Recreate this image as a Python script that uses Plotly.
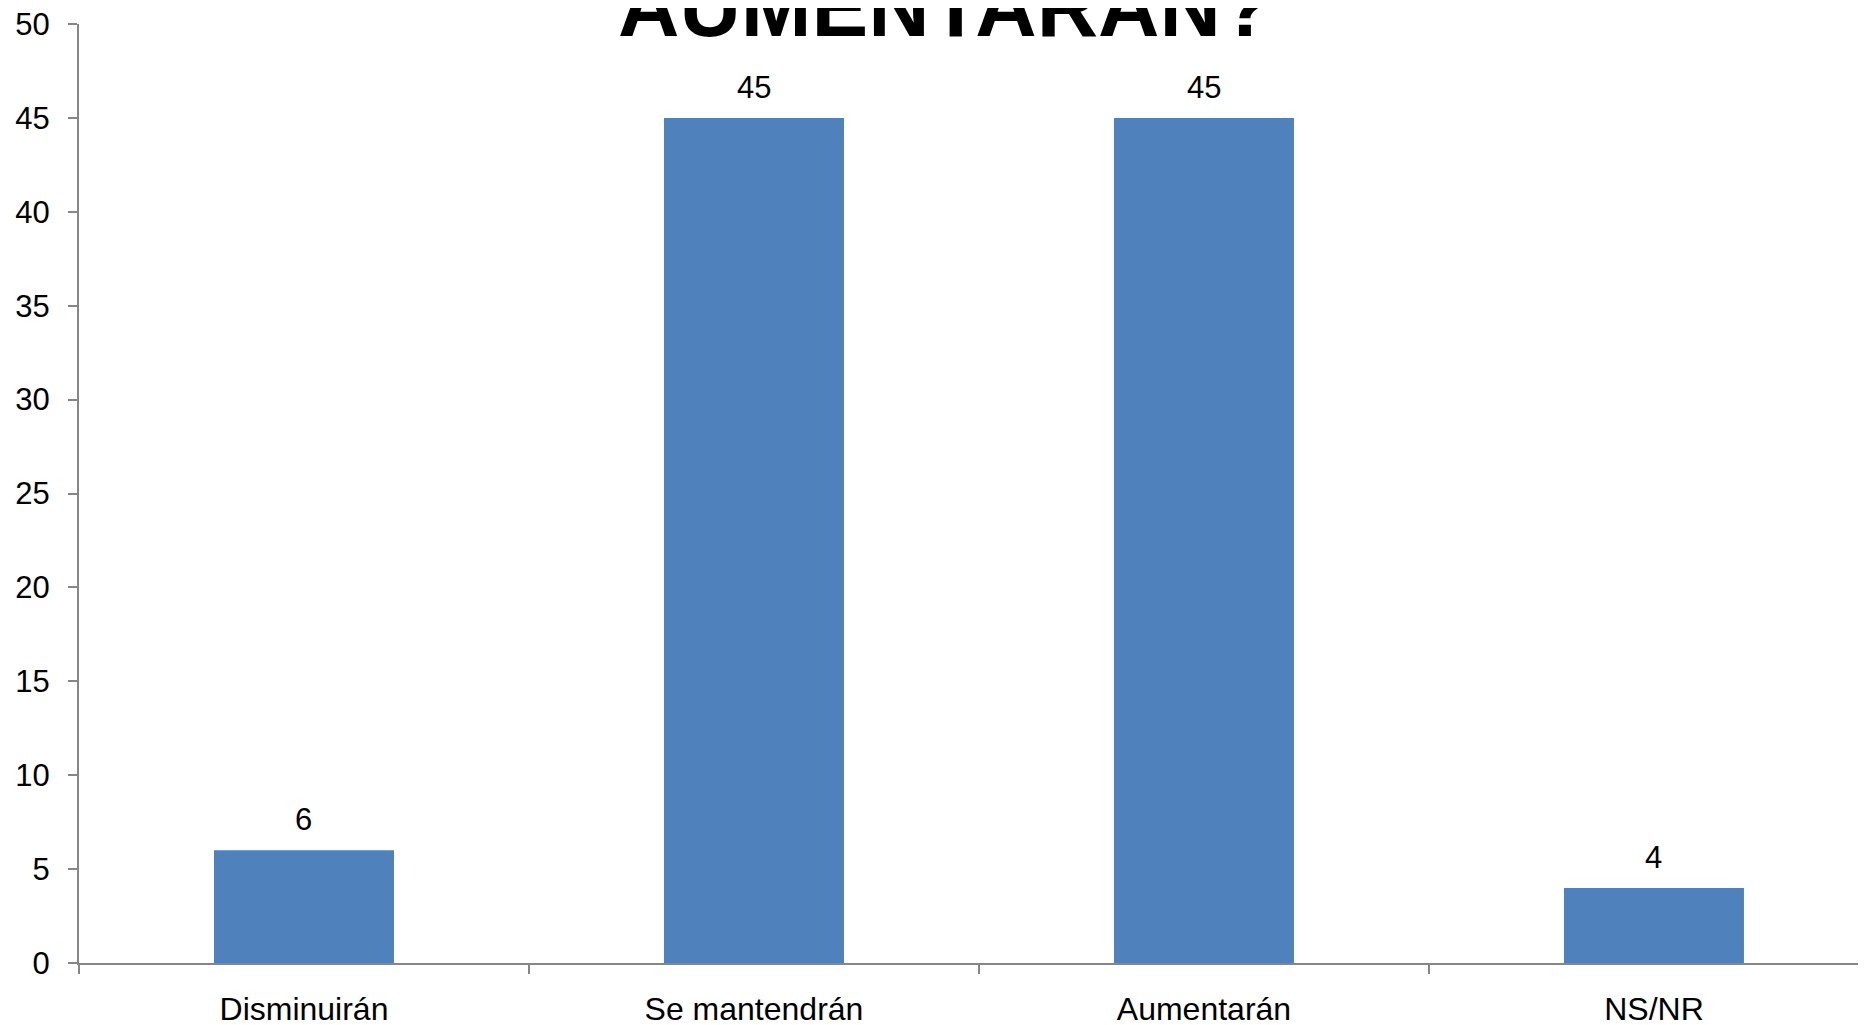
import plotly.graph_objects as go

categories = ["Disminuirán", "Se mantendrán", "Aumentarán", "NS/NR"]
values = [6, 45, 45, 4]
title_text = "AUMENTARÁN?"

BAR_COLOR = "#4F81BD"
AXIS_COLOR = "#868686"
FONT = "Liberation Sans, Arial, sans-serif"

fig = go.Figure()
fig.add_trace(
    go.Bar(
        x=categories,
        y=values,
        marker=dict(color=BAR_COLOR, line=dict(width=0)),
        width=0.4,
        hoverinfo="x+y",
    )
)

# data labels above each bar
for cat, val in zip(categories, values):
    fig.add_annotation(
        x=cat,
        y=val,
        text=str(val),
        showarrow=False,
        yanchor="bottom",
        yshift=11,
        font=dict(size=31, color="black", family=FONT),
    )

# title, only its last line fits in the view
fig.add_annotation(
    xref="paper",
    yref="paper",
    x=0.4825,
    y=0.9655,
    text=f"<b>{title_text}</b>",
    showarrow=False,
    xanchor="center",
    yanchor="bottom",
    font=dict(size=85, color="black", family=FONT),
)

# the page body adds an 8px offset, margins compensate for it
fig.update_layout(
    width=1866,
    height=1025,
    paper_bgcolor="white",
    plot_bgcolor="white",
    showlegend=False,
    margin=dict(l=71, r=0, t=16, b=70),
    font=dict(family=FONT, size=31, color="black"),
    xaxis=dict(
        range=[-0.5, 3.489],
        showline=True,
        linecolor=AXIS_COLOR,
        linewidth=2,
        ticks="outside",
        tickson="boundaries",
        ticklen=9,
        tickwidth=2,
        tickcolor=AXIS_COLOR,
        tickfont=dict(size=32),
        ticklabelstandoff=17,
        ticklabeloverflow="allow",
        showgrid=False,
        zeroline=False,
    ),
    yaxis=dict(
        range=[0, 50],
        dtick=5,
        showline=True,
        linecolor=AXIS_COLOR,
        linewidth=2,
        ticks="outside",
        ticklen=9,
        tickwidth=2,
        tickcolor=AXIS_COLOR,
        tickfont=dict(size=31),
        ticklabelstandoff=12,
        ticklabeloverflow="allow",
        showgrid=False,
        zeroline=False,
    ),
)

fig.write_html("out.html")
